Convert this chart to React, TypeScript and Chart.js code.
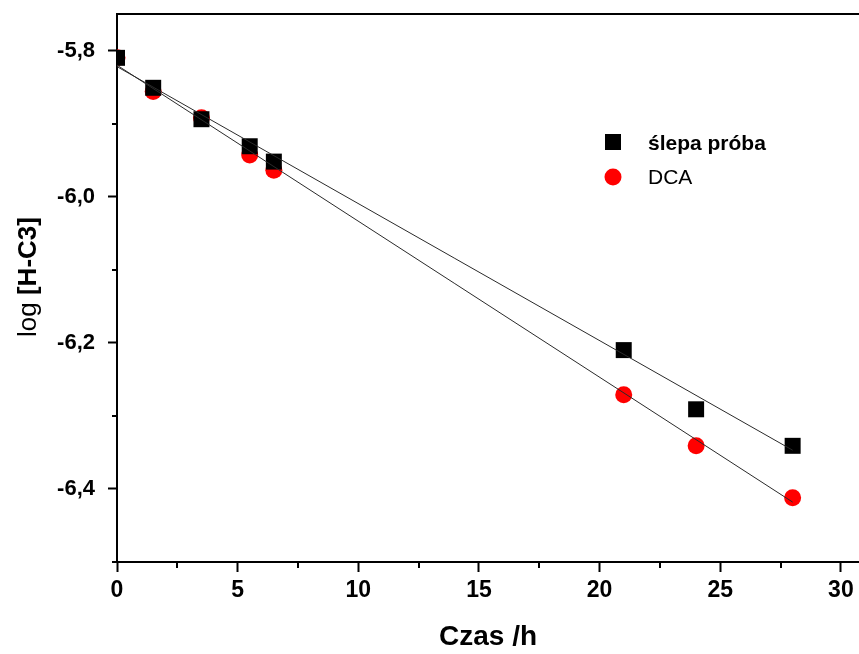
import React, { useEffect, useRef } from 'react';
import { Chart, registerables } from 'chart.js';

Chart.register(...registerables);

const seriesNames = ['ślepa próba', 'DCA'];
const timeHours = [0, 1.5, 3.5, 5.5, 6.5, 21, 24, 28];
const blankValues = [-5.81, -5.851, -5.894, -5.931, -5.952, -6.21, -6.291, -6.341];
const dcaValues = [-5.81, -5.856, -5.892, -5.943, -5.964, -6.271, -6.341, -6.412];
const fitX = [0, 28];
const blankFit = [-5.822, -6.347];
const dcaFit = [-5.82, -6.418];
const xMajorTicks = [0, 5, 10, 15, 20, 25, 30];
const xMinorTicks = [2.5, 7.5, 12.5, 17.5, 22.5, 27.5];
const yMajorTicks = [-6.4, -6.2, -6.0, -5.8];
const yMinorTicks = [-6.5, -6.3, -6.1, -5.9];
const xTitle = 'Czas /h';
const yTitleRegular = 'log ';
const yTitleBold = '[H-C3]';

const FONT = '"Liberation Sans", Arial, Helvetica, sans-serif';

const decorPlugin = {
  id: 'decor',
  afterDraw(chart: any) {
    const { ctx, chartArea, scales } = chart;
    const xs = scales.x;
    const ys = scales.y;
    ctx.save();
    ctx.strokeStyle = '#000';
    ctx.lineWidth = 2;
    // top frame line
    ctx.beginPath();
    ctx.moveTo(chartArea.left - 1, chartArea.top);
    ctx.lineTo(chart.width, chartArea.top);
    ctx.stroke();
    // minor ticks
    xMinorTicks.forEach((v) => {
      const px = Math.round(xs.getPixelForValue(v));
      ctx.beginPath();
      ctx.moveTo(px, chartArea.bottom);
      ctx.lineTo(px, chartArea.bottom + 6);
      ctx.stroke();
    });
    yMinorTicks.forEach((v) => {
      const py = Math.round(ys.getPixelForValue(v));
      ctx.beginPath();
      ctx.moveTo(chartArea.left, py);
      ctx.lineTo(chartArea.left - 5, py);
      ctx.stroke();
    });

    // legend
    const dsSq = chart.data.datasets[2];
    const dsCi = chart.data.datasets[3];
    const lx = 613;
    ctx.fillStyle = dsSq.backgroundColor;
    ctx.fillRect(lx - 8, 142 - 8, 16, 16);
    ctx.fillStyle = dsCi.backgroundColor;
    ctx.beginPath();
    ctx.arc(lx, 177, 8.5, 0, Math.PI * 2);
    ctx.fill();
    ctx.fillStyle = '#000';
    ctx.textAlign = 'left';
    ctx.textBaseline = 'alphabetic';
    ctx.font = `bold 21px ${FONT}`;
    ctx.fillText(dsSq.label, 648, 150);
    ctx.font = `21px ${FONT}`;
    ctx.fillText(dsCi.label, 648, 184);

    // y title, rotated, mixed weight
    ctx.translate(36, 277);
    ctx.rotate(-Math.PI / 2);
    ctx.font = `26px ${FONT}`;
    const w1 = ctx.measureText(yTitleRegular).width;
    ctx.font = `bold 26px ${FONT}`;
    const w2 = ctx.measureText(yTitleBold).width;
    const start = -(w1 + w2) / 2;
    ctx.font = `26px ${FONT}`;
    ctx.fillText(yTitleRegular, start, 0);
    ctx.font = `bold 26px ${FONT}`;
    ctx.fillText(yTitleBold, start + w1, 0);
    ctx.restore();
  },
};

const toPoints = (xs: number[], ys: number[]) => xs.map((x, i) => ({ x, y: ys[i] }));

export default function App() {
  const canvasRef = useRef<HTMLCanvasElement | null>(null);

  useEffect(() => {
    const canvas = canvasRef.current;
    if (!canvas) return;
    const chart = new Chart(canvas, {
      type: 'scatter',
      data: {
        datasets: [
          {
            label: 'fit ' + seriesNames[0],
            data: toPoints(fitX, blankFit),
            showLine: true,
            borderColor: '#2a2a2a',
            borderWidth: 1,
            pointRadius: 0,
            clip: 0,
          },
          {
            label: 'fit ' + seriesNames[1],
            data: toPoints(fitX, dcaFit),
            showLine: true,
            borderColor: '#2a2a2a',
            borderWidth: 1,
            pointRadius: 0,
            clip: 0,
          },
          {
            label: seriesNames[0],
            data: toPoints(timeHours, blankValues),
            pointStyle: 'rect',
            pointRadius: 11.3,
            backgroundColor: '#000000',
            borderColor: '#000000',
            borderWidth: 0,
            clip: 0,
          },
          {
            label: seriesNames[1],
            data: toPoints(timeHours, dcaValues),
            pointStyle: 'circle',
            pointRadius: 8.5,
            backgroundColor: '#ff0000',
            borderColor: '#ff0000',
            borderWidth: 0,
            clip: 0,
          },
        ],
      },
      options: {
        animation: false,
        responsive: false,
        maintainAspectRatio: false,
        devicePixelRatio: 1,
        layout: { autoPadding: false, padding: { top: 14, left: 0, right: 0, bottom: 0 } },
        plugins: {
          legend: { display: false },
          tooltip: { enabled: false },
        },
        scales: {
          x: {
            type: 'linear',
            min: 0,
            max: 30.75,
            afterBuildTicks: (scale: any) => {
              scale.ticks = xMajorTicks.map((v) => ({ value: v }));
            },
            afterFit: (scale: any) => {
              scale.height = 92;
              scale.paddingLeft = 0;
              scale.paddingRight = 0;
              scale.paddingTop = 0;
              scale.paddingBottom = 0;
            },
            border: { display: true, color: '#000', width: 2 },
            grid: {
              display: true,
              drawOnChartArea: false,
              drawTicks: true,
              tickLength: 10,
              tickWidth: 2,
              tickColor: '#000',
            },
            ticks: {
              color: '#000',
              padding: 5,
              maxRotation: 0,
              font: { family: FONT, size: 23, weight: 'bold' },
              callback: (v: any) => String(v),
            },
            title: {
              display: true,
              text: xTitle,
              color: '#000',
              padding: { top: 0, bottom: 0 },
              font: { family: FONT, size: 28, weight: 'bold' },
            },
          },
          y: {
            type: 'linear',
            min: -6.5,
            max: -5.75,
            afterBuildTicks: (scale: any) => {
              scale.ticks = yMajorTicks.map((v) => ({ value: v }));
            },
            afterFit: (scale: any) => {
              scale.width = 117;
              scale.paddingLeft = 0;
              scale.paddingRight = 0;
              scale.paddingTop = 0;
              scale.paddingBottom = 0;
            },
            border: { display: true, color: '#000', width: 2 },
            grid: {
              display: true,
              drawOnChartArea: false,
              drawTicks: true,
              tickLength: 9,
              tickWidth: 2,
              tickColor: '#000',
            },
            ticks: {
              color: '#000',
              padding: 13,
              font: { family: FONT, size: 22, weight: 'bold' },
              callback: (v: any) => Number(v).toFixed(1).replace('.', ','),
            },
            title: { display: false },
          },
        },
      } as any,
      plugins: [decorPlugin],
    });
    return () => chart.destroy();
  }, []);

  return (
    <div style={{ position: 'absolute', left: 0, top: 0, width: 859, height: 654, background: '#fff' }}>
      <canvas ref={canvasRef} width={859} height={654} style={{ display: 'block', width: 859, height: 654 }} />
    </div>
  );
}
